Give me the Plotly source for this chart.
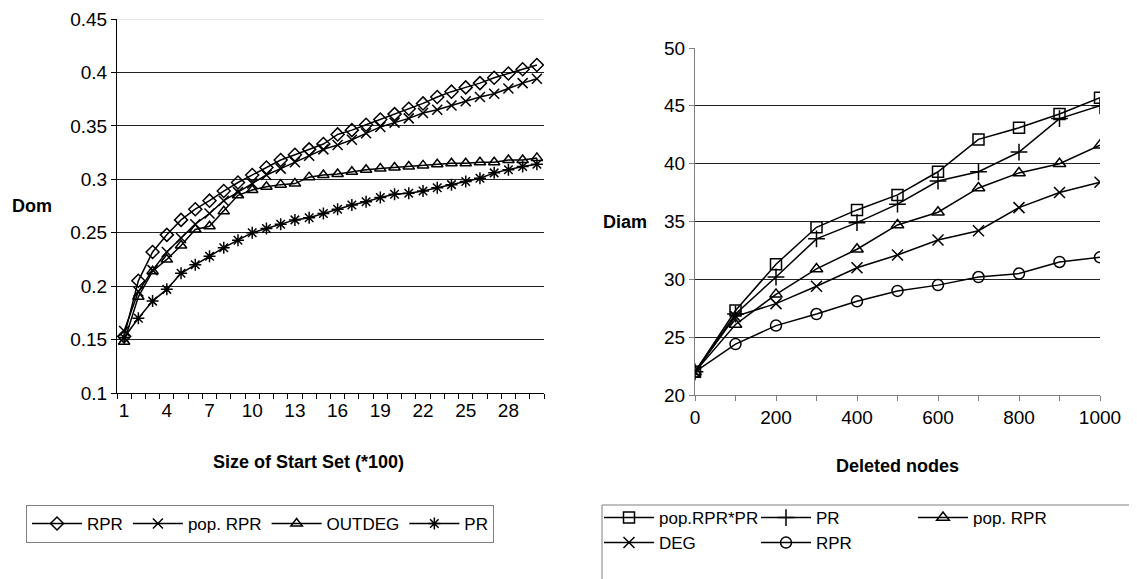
import plotly.graph_objects as go

# ---- Left chart data ----
start_set = list(range(1, 31))
rpr_dom = [0.153, 0.205, 0.232, 0.248, 0.262, 0.272, 0.280, 0.289, 0.297, 0.304,
           0.311, 0.318, 0.323, 0.328, 0.333, 0.342, 0.346, 0.351, 0.356, 0.361,
           0.366, 0.371, 0.377, 0.382, 0.386, 0.390, 0.395, 0.399, 0.403, 0.407]
poprpr_dom = [0.158, 0.195, 0.215, 0.232, 0.245, 0.258, 0.268, 0.280, 0.288, 0.296,
              0.304, 0.310, 0.316, 0.322, 0.328, 0.332, 0.337, 0.343, 0.349, 0.353,
              0.357, 0.362, 0.365, 0.369, 0.373, 0.377, 0.380, 0.385, 0.390, 0.394]
outdeg_dom = [0.148, 0.190, 0.214, 0.225, 0.238, 0.253, 0.256, 0.270, 0.285, 0.290,
              0.293, 0.295, 0.296, 0.302, 0.304, 0.305, 0.307, 0.309, 0.310, 0.311,
              0.312, 0.313, 0.314, 0.315, 0.315, 0.316, 0.316, 0.318, 0.318, 0.320]
pr_dom = [0.152, 0.170, 0.186, 0.197, 0.212, 0.220, 0.228, 0.236, 0.243, 0.250,
          0.254, 0.258, 0.262, 0.264, 0.268, 0.272, 0.276, 0.279, 0.283, 0.286,
          0.287, 0.289, 0.292, 0.295, 0.298, 0.301, 0.306, 0.309, 0.312, 0.314]
left_xtick_vals = [1, 4, 7, 10, 13, 16, 19, 22, 25, 28]
left_ytick_vals = [0.1, 0.15, 0.2, 0.25, 0.3, 0.35, 0.4, 0.45]
left_ytick_text = ["0.1", "0.15", "0.2", "0.25", "0.3", "0.35", "0.4", "0.45"]

# ---- Right chart data ----
deleted = [0, 100, 200, 300, 400, 500, 600, 700, 800, 900, 1000]
poprpr_pr_diam = [22, 27.3, 31.3, 34.5, 36.0, 37.3, 39.3, 42.1, 43.1, 44.3, 45.7]
pr_diam = [22, 27.0, 30.2, 33.5, 34.9, 36.5, 38.5, 39.3, 41.0, 43.9, 45.0]
poprpr_diam = [22, 26.1, 28.7, 30.9, 32.6, 34.7, 35.8, 37.9, 39.2, 40.0, 41.6]
deg_diam = [22, 26.8, 27.9, 29.4, 31.0, 32.1, 33.4, 34.2, 36.2, 37.5, 38.4]
rpr_diam = [22, 24.4, 26.0, 27.0, 28.1, 29.0, 29.5, 30.2, 30.5, 31.5, 31.9]
right_xtick_vals = [0, 100, 200, 300, 400, 500, 600, 700, 800, 900, 1000]
right_xtick_text = ["0", "", "200", "", "400", "", "600", "", "800", "", "1000"]
right_ytick_vals = [20, 25, 30, 35, 40, 45, 50]

FONT = "Liberation Sans, Arial, sans-serif"
fig = go.Figure()

def add(x, y, name, symbol, size, xa, ya, legend):
    fig.add_trace(go.Scatter(
        x=x, y=y, name=name, mode="lines+markers",
        line=dict(color="black", width=1.5),
        marker=dict(symbol=symbol, size=size, color="black",
                    line=dict(color="black", width=1.5)),
        xaxis=xa, yaxis=ya, legend=legend))

add(start_set, rpr_dom, "RPR", "diamond-open", 10, "x", "y", "legend")
add(start_set, poprpr_dom, "pop. RPR", "x-thin-open", 10, "x", "y", "legend")
add(start_set, outdeg_dom, "OUTDEG", "triangle-up-open", 10, "x", "y", "legend")
add(start_set, pr_dom, "PR", "asterisk-open", 10, "x", "y", "legend")

add(deleted, poprpr_pr_diam, "pop.RPR*PR", "square-open", 11, "x2", "y2", "legend2")
add(deleted, pr_diam, "PR", "cross-thin-open", 12, "x2", "y2", "legend2")
add(deleted, poprpr_diam, "pop. RPR", "triangle-up-open", 11, "x2", "y2", "legend2")
add(deleted, deg_diam, "DEG", "x-thin-open", 11, "x2", "y2", "legend3")
add(deleted, rpr_diam, "RPR", "circle-open", 11, "x2", "y2", "legend3")

W, H = 1137, 579
OFF = 8  # page body margin offset
def px(x):
    return (x - OFF) / W
def py(y):
    return 1 - (y - OFF) / H

leg_common = dict(orientation="h", xanchor="left", yanchor="top",
                  font=dict(family=FONT, size=17), itemwidth=50, tracegroupgap=0)

def title(text, x, y):
    return dict(text=f"<b>{text}</b>", x=px(x), y=py(y), xref="paper", yref="paper",
                xanchor="center", yanchor="middle", showarrow=False, font=dict(size=18))

fig.update_layout(
    width=W, height=H,
    margin=dict(l=0, r=0, t=0, b=0, autoexpand=False),
    paper_bgcolor="white", plot_bgcolor="white",
    font=dict(family=FONT, size=19, color="black"),
    xaxis=dict(domain=[px(117), px(544)], range=[0.5, 30.5],
               tickvals=left_xtick_vals, ticks="", showgrid=False, zeroline=False,
               showline=True, linecolor="black", linewidth=1,
               minor=dict(ticks="outside", tick0=0.5, dtick=1, ticklen=5,
                          tickcolor="black", showgrid=False),
               anchor="y"),
    yaxis=dict(domain=[py(393), py(19)], range=[0.1, 0.45],
               tickvals=left_ytick_vals, ticktext=left_ytick_text,
               ticks="outside", ticklen=5, tickcolor="black",
               showgrid=True, gridcolor="#222", gridwidth=1, zeroline=False,
               showline=True, linecolor="black", linewidth=1,
               anchor="x"),
    xaxis2=dict(domain=[px(695), px(1100)], range=[0, 1000],
                tickvals=right_xtick_vals, ticktext=right_xtick_text,
                ticks="outside", ticklen=5, tickcolor="#808080",
                showgrid=False, zeroline=False,
                showline=True, linecolor="#808080", linewidth=1,
                anchor="y2"),
    yaxis2=dict(domain=[py(395), py(48)], range=[20, 50],
                tickvals=right_ytick_vals,
                ticks="outside", ticklen=5, tickcolor="#808080",
                showgrid=True, gridcolor="#222", gridwidth=1, zeroline=False,
                showline=True, linecolor="#808080", linewidth=1,
                anchor="x2"),
    legend=dict(x=px(26), y=py(505), bordercolor="#808080", borderwidth=1,
                bgcolor="white", **leg_common),
    legend2=dict(x=px(599), y=py(500), entrywidth=92, borderwidth=0,
                 bgcolor="rgba(0,0,0,0)", **leg_common),
    legend3=dict(x=px(599), y=py(525), entrywidth=92, borderwidth=0,
                 bgcolor="rgba(0,0,0,0)", **leg_common),
    shapes=[
        dict(type="rect", xref="paper", yref="paper",
             x0=px(602), x1=px(1150), y0=py(600), y1=py(505),
             line=dict(color="#808080", width=1), fillcolor="rgba(0,0,0,0)", layer="below"),
        dict(type="line", xref="x", yref="y", x0=0.5, x1=30.5, y0=0.45, y1=0.45,
             line=dict(color="#e6e6e6", width=2), layer="above"),
    ],
    annotations=[
        title("Dom", 32, 206),
        title("Size of Start Set (*100)", 308, 462),
        title("Diam", 625, 222),
        title("Deleted nodes", 897, 466),
    ],
)

fig.write_html("out.html")
